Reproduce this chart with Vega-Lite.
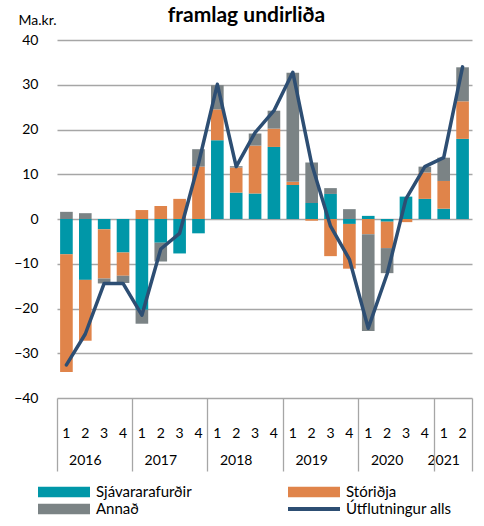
{
  "$schema": "https://vega.github.io/schema/vega-lite/v6.json",
  "width": 415,
  "height": 358,
  "autosize": {"type": "none"},
  "padding": {"left": 57, "top": 40, "right": 12, "bottom": 128},
  "background": "white",
  "title": {"text": "framlag undirliða", "fontSize": 21, "fontWeight": "bold", "font": "Lato", "color": "#000", "anchor": "middle", "frame": "group", "dx": -18, "baseline": "alphabetic", "offset": -30},
  "datasets": {
    "parts": [
      {"q": "2016Q1", "series": "Sjávararafurðir", "value": -7.9}, {"q": "2016Q1", "series": "Stóriðja", "value": -26.3}, {"q": "2016Q1", "series": "Annað", "value": 1.6},
      {"q": "2016Q2", "series": "Sjávararafurðir", "value": -13.6}, {"q": "2016Q2", "series": "Stóriðja", "value": -13.6}, {"q": "2016Q2", "series": "Annað", "value": 1.3},
      {"q": "2016Q3", "series": "Sjávararafurðir", "value": -2.3}, {"q": "2016Q3", "series": "Stóriðja", "value": -11.0}, {"q": "2016Q3", "series": "Annað", "value": -1.1},
      {"q": "2016Q4", "series": "Sjávararafurðir", "value": -7.5}, {"q": "2016Q4", "series": "Stóriðja", "value": -5.2}, {"q": "2016Q4", "series": "Annað", "value": -1.6},
      {"q": "2017Q1", "series": "Sjávararafurðir", "value": -20.3}, {"q": "2017Q1", "series": "Stóriðja", "value": 2.0}, {"q": "2017Q1", "series": "Annað", "value": -3.1},
      {"q": "2017Q2", "series": "Sjávararafurðir", "value": -5.3}, {"q": "2017Q2", "series": "Stóriðja", "value": 2.9}, {"q": "2017Q2", "series": "Annað", "value": -4.2},
      {"q": "2017Q3", "series": "Sjávararafurðir", "value": -7.7}, {"q": "2017Q3", "series": "Stóriðja", "value": 4.5}, {"q": "2017Q3", "series": "Annað", "value": 0},
      {"q": "2017Q4", "series": "Sjávararafurðir", "value": -3.2}, {"q": "2017Q4", "series": "Stóriðja", "value": 11.7}, {"q": "2017Q4", "series": "Annað", "value": 3.9},
      {"q": "2018Q1", "series": "Sjávararafurðir", "value": 17.6}, {"q": "2018Q1", "series": "Stóriðja", "value": 6.9}, {"q": "2018Q1", "series": "Annað", "value": 5.4},
      {"q": "2018Q2", "series": "Sjávararafurðir", "value": 5.9}, {"q": "2018Q2", "series": "Stóriðja", "value": 5.6}, {"q": "2018Q2", "series": "Annað", "value": 0.3},
      {"q": "2018Q3", "series": "Sjávararafurðir", "value": 5.7}, {"q": "2018Q3", "series": "Stóriðja", "value": 10.7}, {"q": "2018Q3", "series": "Annað", "value": 2.7},
      {"q": "2018Q4", "series": "Sjávararafurðir", "value": 16.1}, {"q": "2018Q4", "series": "Stóriðja", "value": 4.1}, {"q": "2018Q4", "series": "Annað", "value": 4.0},
      {"q": "2019Q1", "series": "Sjávararafurðir", "value": 7.6}, {"q": "2019Q1", "series": "Stóriðja", "value": 0.7}, {"q": "2019Q1", "series": "Annað", "value": 24.4},
      {"q": "2019Q2", "series": "Sjávararafurðir", "value": 3.6}, {"q": "2019Q2", "series": "Stóriðja", "value": -0.4}, {"q": "2019Q2", "series": "Annað", "value": 9.0},
      {"q": "2019Q3", "series": "Sjávararafurðir", "value": 5.6}, {"q": "2019Q3", "series": "Stóriðja", "value": -8.3}, {"q": "2019Q3", "series": "Annað", "value": 1.3},
      {"q": "2019Q4", "series": "Sjávararafurðir", "value": -1.1}, {"q": "2019Q4", "series": "Stóriðja", "value": -10.0}, {"q": "2019Q4", "series": "Annað", "value": 2.2},
      {"q": "2020Q1", "series": "Sjávararafurðir", "value": 0.7}, {"q": "2020Q1", "series": "Stóriðja", "value": -3.4}, {"q": "2020Q1", "series": "Annað", "value": -21.6},
      {"q": "2020Q2", "series": "Sjávararafurðir", "value": -0.6}, {"q": "2020Q2", "series": "Stóriðja", "value": -5.9}, {"q": "2020Q2", "series": "Annað", "value": -5.6},
      {"q": "2020Q3", "series": "Sjávararafurðir", "value": 5.0}, {"q": "2020Q3", "series": "Stóriðja", "value": -0.7}, {"q": "2020Q3", "series": "Annað", "value": 0},
      {"q": "2020Q4", "series": "Sjávararafurðir", "value": 4.5}, {"q": "2020Q4", "series": "Stóriðja", "value": 5.9}, {"q": "2020Q4", "series": "Annað", "value": 1.3},
      {"q": "2021Q1", "series": "Sjávararafurðir", "value": 2.3}, {"q": "2021Q1", "series": "Stóriðja", "value": 6.2}, {"q": "2021Q1", "series": "Annað", "value": 5.2},
      {"q": "2021Q2", "series": "Sjávararafurðir", "value": 17.9}, {"q": "2021Q2", "series": "Stóriðja", "value": 8.4}, {"q": "2021Q2", "series": "Annað", "value": 7.6}
    ],
    "total": [
      {"q": "2016Q1", "total": -32.6}, {"q": "2016Q2", "total": -25.7}, {"q": "2016Q3", "total": -14.4}, {"q": "2016Q4", "total": -14.4},
      {"q": "2017Q1", "total": -21.5}, {"q": "2017Q2", "total": -6.7}, {"q": "2017Q3", "total": -3.2}, {"q": "2017Q4", "total": 12.4},
      {"q": "2018Q1", "total": 30.1}, {"q": "2018Q2", "total": 11.7}, {"q": "2018Q3", "total": 19.3}, {"q": "2018Q4", "total": 24.2},
      {"q": "2019Q1", "total": 32.8}, {"q": "2019Q2", "total": 12.3}, {"q": "2019Q3", "total": -1.6}, {"q": "2019Q4", "total": -9.0},
      {"q": "2020Q1", "total": -24.4}, {"q": "2020Q2", "total": -12.3}, {"q": "2020Q3", "total": 4.5}, {"q": "2020Q4", "total": 11.7},
      {"q": "2021Q1", "total": 13.7}, {"q": "2021Q2", "total": 34.0}
    ]
  },
  "layer": [
    {
      "data": {"name": "parts"},
      "transform": [{"calculate": "indexof(['Sjávararafurðir', 'Stóriðja', 'Annað'], datum.series)", "as": "stackOrder"}],
      "mark": {"type": "bar", "width": {"band": 0.67}},
      "encoding": {
        "x": {"field": "q", "type": "ordinal", "scale": {"paddingInner": 0, "paddingOuter": 0},
          "axis": {"orient": "bottom", "title": null, "domain": false, "ticks": false, "grid": false, "labelAngle": 0, "labelExpr": "substring(datum.value, 5, 6)", "labelFontSize": 14, "labelColor": "#000", "labelBaseline": "middle", "labelPadding": 35, "bandPosition": 0.5}},
        "y": {"field": "value", "type": "quantitative", "stack": "zero", "scale": {"domain": [-40, 40], "nice": false, "zero": false},
          "axis": {"title": "Ma.kr.", "titleAngle": 0, "titleAlign": "left", "titleBaseline": "alphabetic", "titleX": -39, "titleY": -16, "titleFontSize": 14, "titleFontWeight": "normal", "titleColor": "#000", "values": [-40, -30, -20, -10, 0, 10, 20, 30, 40], "grid": true, "gridColor": "#a6a6a6", "gridWidth": 1.3, "domain": false, "ticks": false, "labelFontSize": 14, "labelColor": "#000", "labelPadding": 19}},
        "order": {"field": "stackOrder", "type": "quantitative", "sort": "ascending"},
        "color": {"field": "series", "type": "nominal",
          "scale": {"domain": ["Sjávararafurðir", "Stóriðja", "Annað", "Útflutningur alls"], "range": ["#0097A8", "#E0844A", "#7B8385", "#2D4E73"]},
          "legend": {"orient": "none", "legendX": -19, "legendY": 443.5, "columns": 2, "direction": "horizontal", "title": null, "symbolSize": 2704, "clipHeight": 17, "labelFontSize": 15, "labelColor": "#000", "labelOffset": 6, "columnPadding": 96, "rowPadding": 0, "padding": 0, "symbolStrokeWidth": 0, "gridAlign": "each",
            "encode": {"symbols": {"update": {"shape": {"signal": "datum.value === 'Útflutningur alls' ? 'M-1,-0.075H1V0.075H-1Z' : 'M-1,-0.2H1V0.2H-1Z'"}, "fill": {"scale": "color", "field": "value"}, "stroke": {"value": "transparent"}, "opacity": {"value": 1}}}}}}
      }
    },
    {
      "data": {"name": "total"},
      "mark": {"type": "line", "strokeWidth": 3.5, "strokeJoin": "round", "strokeCap": "round"},
      "encoding": {
        "x": {"field": "q", "type": "ordinal",
          "axis": {"orient": "bottom", "title": null, "domain": false, "ticks": false, "grid": false, "values": ["2016Q2", "2017Q2", "2018Q2", "2019Q2", "2020Q2", "2021Q1"], "bandPosition": 1, "labelExpr": "substring(datum.value, 0, 4)", "labelAngle": 0, "labelBaseline": "middle", "labelPadding": 62, "labelFontSize": 14, "labelColor": "#000"}},
        "y": {"field": "total", "type": "quantitative"},
        "color": {"datum": "Útflutningur alls", "type": "nominal"}
      }
    },
    {
      "data": {"name": "total"},
      "mark": {"type": "rule", "opacity": 0},
      "encoding": {
        "x": {"field": "q", "type": "ordinal",
          "axis": {"orient": "bottom", "title": null, "domain": false, "labels": false, "grid": false, "ticks": true, "tickSize": 73, "tickColor": "#a6a6a6", "tickWidth": 1.3, "values": ["2016Q4", "2017Q4", "2018Q4", "2019Q4", "2020Q4", "2021Q2"], "bandPosition": 1}}
      }
    },
    {
      "data": {"name": "total"},
      "mark": {"type": "rule", "opacity": 0},
      "encoding": {
        "x": {"field": "q", "type": "ordinal",
          "axis": {"orient": "bottom", "title": null, "domain": false, "labels": false, "grid": false, "ticks": true, "tickSize": 73, "tickColor": "#a6a6a6", "tickWidth": 1.3, "values": ["2016Q1"], "bandPosition": 0}}
      }
    }
  ],
  "resolve": {"axis": {"x": "independent"}, "scale": {"x": "shared"}},
  "config": {"font": "Lato", "view": {"stroke": null}}
}
